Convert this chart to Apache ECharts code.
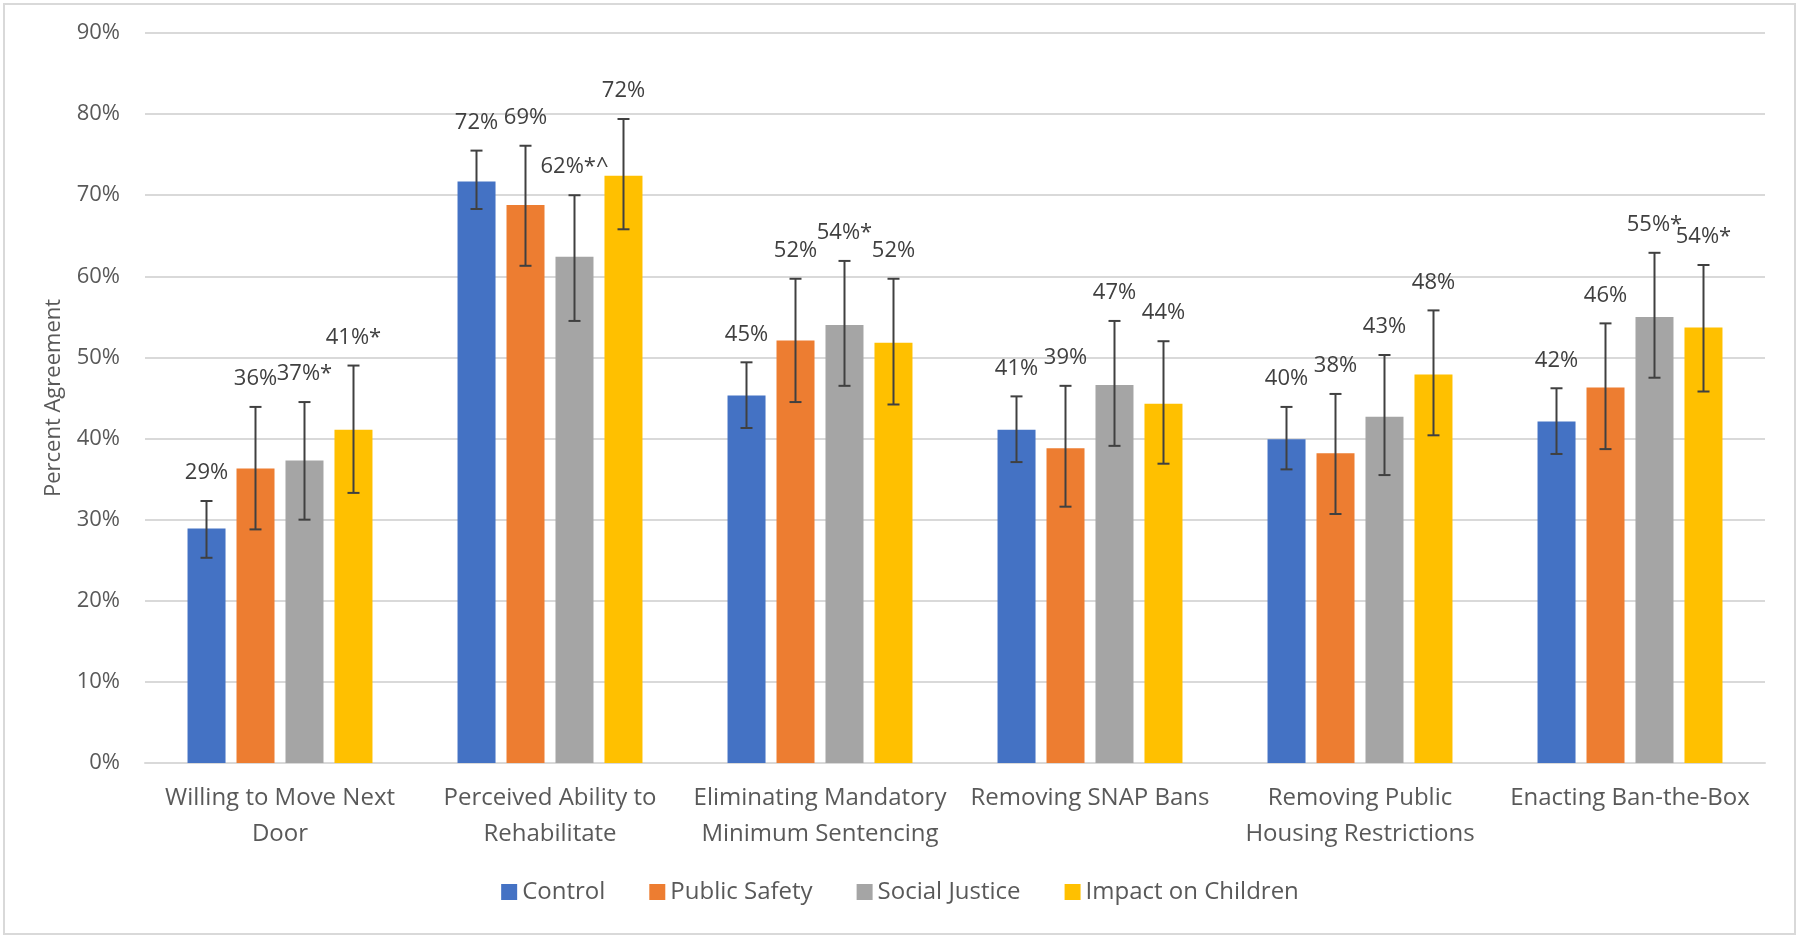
<!DOCTYPE html>
<html>
<head>
<meta charset="utf-8">
<title>Percent Agreement by Frame</title>
<script src="https://cdn.jsdelivr.net/npm/echarts@6/dist/echarts.min.js"></script>
<style>
  html, body { margin: 0; padding: 0; background: #fff; }
  #chart { width: 1800px; height: 940px; }
</style>
</head>
<body>
<div id="chart"></div>
<script>
// categories and legend
var categories = [
    'Willing to Move Next\nDoor',
    'Perceived Ability to\nRehabilitate',
    'Eliminating Mandatory\nMinimum Sentencing',
    'Removing SNAP Bans',
    'Removing Public\nHousing Restrictions',
    'Enacting Ban-the-Box'
];
var seriesNames = ['Control', 'Public Safety', 'Social Justice', 'Impact on Children'];
var yTicks = [0, 10, 20, 30, 40, 50, 60, 70, 80, 90];

// bar values (percent)
var control        = [28.9, 71.7, 45.3, 41.1, 39.9, 42.1];
var publicSafety   = [36.3, 68.8, 52.1, 38.8, 38.2, 46.3];
var socialJustice  = [37.3, 62.4, 54.0, 46.6, 42.7, 55.0];
var impactChildren = [41.1, 72.4, 51.8, 44.3, 47.9, 53.7];

// error bar ends
var controlLow  = [25.3, 68.3, 41.3, 37.1, 36.2, 38.1];
var controlHigh = [32.3, 75.5, 49.4, 45.2, 43.9, 46.2];
var publicLow   = [28.8, 61.3, 44.5, 31.6, 30.7, 38.7];
var publicHigh  = [43.9, 76.1, 59.7, 46.5, 45.5, 54.2];
var socialLow   = [30.0, 54.5, 46.5, 39.1, 35.5, 47.5];
var socialHigh  = [44.5, 70.0, 61.9, 54.5, 50.3, 62.9];
var childLow    = [33.3, 65.8, 44.2, 36.9, 40.4, 45.8];
var childHigh   = [49.0, 79.4, 59.7, 52.0, 55.8, 61.4];

// significance marks after the labels
var controlMarks = ['', '', '', '', '', ''];
var publicMarks  = ['', '', '', '', '', ''];
var socialMarks  = ['*', '*^', '*', '', '', '*'];
var childMarks   = ['*', '', '', '', '', '*'];

var colors = ['#4472C4', '#ED7D31', '#A5A5A5', '#FFC000'];
var font = '"Open Sans", sans-serif';
var barWidth = 38;
var barGapPx = 11;

var chart = echarts.init(document.getElementById('chart'));

function barSeries(k, values) {
    return {
        name: seriesNames[k],
        type: 'bar',
        data: values,
        barWidth: barWidth,
        barGap: (barGapPx / barWidth * 100).toFixed(1) + '%',
        itemStyle: { color: colors[k] },
        z: 2
    };
}

// error bar + data label, drawn off the same axes
function errSeries(k, values, low, high, marks) {
    var offset = (k - 1.5) * (barWidth + barGapPx);
    return {
        name: 'err' + k,
        type: 'custom',
        silent: true,
        z: 5,
        data: values.map(function(v, i) { return [i, low[i], high[i], v]; }),
        encode: { x: 0, y: [1, 2] },
        renderItem: function(params, api) {
            var i = api.value(0);
            var lo = api.coord([i, api.value(1)]);
            var hi = api.coord([i, api.value(2)]);
            var x = lo[0] + offset;
            var cap = 6;
            var st = { stroke: '#404040', lineWidth: 2 };
            var txt = Math.round(api.value(3)) + '%' + marks[i];
            return {
                type: 'group',
                children: [
                    { type: 'line', shape: { x1: x, y1: lo[1], x2: x, y2: hi[1] }, style: st },
                    { type: 'line', shape: { x1: x - cap, y1: lo[1], x2: x + cap, y2: lo[1] }, style: st },
                    { type: 'line', shape: { x1: x - cap, y1: hi[1], x2: x + cap, y2: hi[1] }, style: st },
                    {
                        type: 'text',
                        style: {
                            text: txt, x: x, y: hi[1] - 28,
                            align: 'center', verticalAlign: 'middle',
                            fontSize: 22, fontFamily: font, fill: '#404040'
                        }
                    }
                ]
            };
        }
    };
}

var option = {
    backgroundColor: '#fff',
    animation: false,
    textStyle: { fontFamily: font },
    graphic: [{
        type: 'rect',
        shape: { x: 4, y: 4, width: 1791, height: 930 },
        style: { fill: 'none', stroke: '#d9d9d9', lineWidth: 2 },
        silent: true
    }],
    grid: { left: 145, right: 35, top: 33, bottom: 177 },
    legend: {
        data: seriesNames,
        left: 'center',
        top: 875,
        icon: 'rect',
        itemWidth: 16,
        itemHeight: 16,
        itemGap: 44,
        textStyle: { fontSize: 24, color: '#595959', fontFamily: font }
    },
    xAxis: {
        type: 'category',
        data: categories,
        axisTick: { show: false },
        axisLine: { lineStyle: { color: '#d9d9d9', width: 2 } },
        axisLabel: {
            interval: 0,
            margin: 17,
            fontSize: 24,
            lineHeight: 36,
            color: '#595959',
            fontFamily: font
        }
    },
    yAxis: {
        type: 'value',
        min: yTicks[0],
        max: yTicks[yTicks.length - 1],
        interval: 10,
        name: 'Percent Agreement',
        nameLocation: 'middle',
        nameRotate: 90,
        nameGap: 80,
        nameTextStyle: { fontSize: 22, color: '#595959', fontFamily: font },
        axisLabel: { formatter: '{value}%', fontSize: 22, color: '#595959', margin: 25, fontFamily: font },
        splitLine: { lineStyle: { color: '#d9d9d9', width: 2 } }
    },
    series: [
        barSeries(0, control),
        barSeries(1, publicSafety),
        barSeries(2, socialJustice),
        barSeries(3, impactChildren),
        errSeries(0, control, controlLow, controlHigh, controlMarks),
        errSeries(1, publicSafety, publicLow, publicHigh, publicMarks),
        errSeries(2, socialJustice, socialLow, socialHigh, socialMarks),
        errSeries(3, impactChildren, childLow, childHigh, childMarks)
    ]
};

chart.setOption(option);
</script>
</body>
</html>
